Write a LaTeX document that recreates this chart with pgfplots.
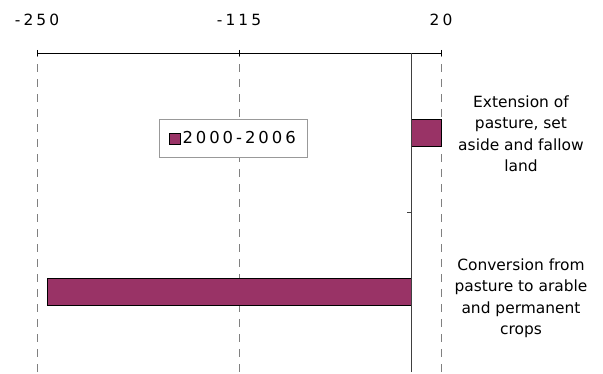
\documentclass[border=0pt]{standalone}
\usepackage{pgfplots}
\pgfplotsset{compat=1.18}
\usepackage{fontspec}
\setmainfont{DejaVu Sans}
\newfontfamily\tickfont[LetterSpace=20]{DejaVu Sans}
\newfontfamily\legfont[LetterSpace=18]{DejaVu Sans}
\definecolor{barcol}{HTML}{993366}
\definecolor{axcol}{HTML}{404040}
\begin{document}
\begin{tikzpicture}
\useasboundingbox (0,0) rectangle (603bp,374bp);
\begin{axis}[
  at={(37bp,2bp)}, anchor=south west,
  scale only axis, width=404bp, height=319bp,
  xmin=-250, xmax=20, ymin=-0.5, ymax=1.5,
  clip=false,
  axis x line*=top, axis y line=none,
  xtick={-250,-115,20},
  xticklabels={-250,-115,20},
  xticklabel style={font=\tickfont\fontsize{15.5}{18}\selectfont, text=black, yshift=21bp},
  tick align=center, major tick length=6bp,
  x axis line style={black, line width=0.8pt},
  every tick/.style={black, line width=0.7pt},
  xmajorgrids, major grid style={gray, dash pattern=on 8bp off 7bp, line width=0.7pt},
  ytick=\empty,
  xbar, bar width=0.17,
  legend style={at={(0.486,0.732)}, anchor=center, draw=gray!80, line width=0.8pt,
    font=\legfont\fontsize{16.5}{19}\selectfont, inner xsep=10bp, inner ysep=10bp},
  legend image code/.code={\draw[#1, draw=black, line width=0.6pt] (0bp,-5.5bp) rectangle (11bp,5.5bp);},
  legend cell align=left,
]
\addplot[fill=barcol, draw=black, line width=0.8pt] coordinates {(-243,0) (20,1)};
\addlegendentry{2000-2006}
\draw[axcol, line width=1pt] (axis cs:0,-0.5) -- (axis cs:0,1.5);
\draw[axcol, line width=0.8pt] (axis cs:0,0.5) -- ([xshift=-4bp]axis cs:0,0.5);
\node[align=center, font=\fontsize{15.5}{21.5}\selectfont, text=black] at (axis cs:20,1) [xshift=80bp, yshift=-1bp]
  {Extension of\\pasture, set\\aside and fallow\\land};
\node[align=center, font=\fontsize{15.5}{21.5}\selectfont, text=black] at (axis cs:20,0) [xshift=80bp, yshift=-6bp]
  {Conversion from\\pasture to arable\\and permanent\\crops};
\end{axis}
\end{tikzpicture}
\end{document}
